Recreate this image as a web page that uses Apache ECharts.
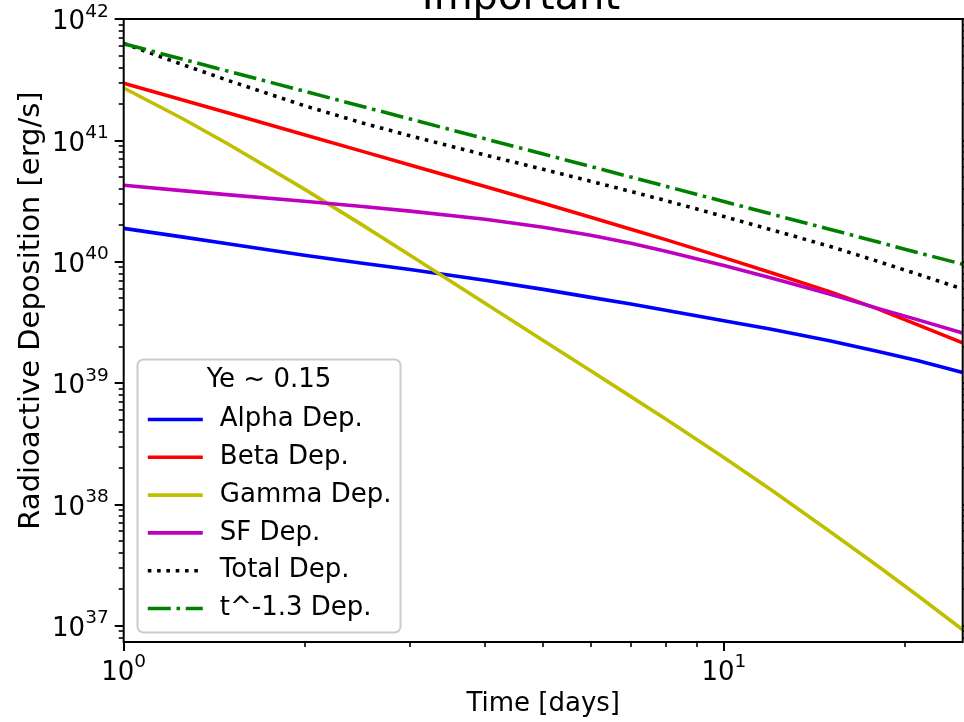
<!DOCTYPE html>
<html><head><meta charset="utf-8">
<script src="https://cdn.jsdelivr.net/npm/echarts@6/dist/echarts.min.js"></script>
<style>html,body{margin:0;padding:0;background:#fff}#c{width:964px;height:722px}</style>
</head><body><div id="c"></div>
<script>
// ---- data ----
const times = [1, 1.25, 1.5, 2, 2.5, 3, 4, 5, 6, 7, 8, 10, 12, 15, 18, 21, 25];
const alphaDep = [1.88e40,1.60e40,1.40e40,1.13e40,9.72e39,8.61e39,7.04e39,5.91e39,5.08e39,4.47e39,3.98e39,3.26e39,2.77e39,2.23e39,1.83e39,1.53e39,1.22e39];
const betaDep = [2.96e41,2.16e41,1.67e41,1.11e41,8.11e40,6.27e40,4.17e40,3.03e40,2.32e40,1.85e40,1.52e40,1.08e40,8.09e39,5.66e39,4.10e39,3.03e39,2.14e39];
const gammaDep = [2.70e41,1.52e41,9.20e40,3.96e40,2.00e40,1.13e40,4.55e39,2.24e39,1.26e39,7.72e38,5.05e38,2.43e38,1.31e38,6.00e37,3.13e37,1.78e37,9.25e36];
const sfDep = [4.27e40,3.85e40,3.55e40,3.15e40,2.85e40,2.61e40,2.24e40,1.92e40,1.65e40,1.42e40,1.22e40,9.29e39,7.35e39,5.42e39,4.14e39,3.33e39,2.58e39];
const totalDep = [6.28e41,4.23e41,3.09e41,1.93e41,1.39e41,1.09e41,7.57e40,5.77e40,4.60e40,3.79e40,3.19e40,2.36e40,1.83e40,1.34e40,1.01e40,7.91e39,5.95e39];
const powerLawDep = [6.25e41,4.68e41,3.69e41,2.54e41,1.90e41,1.50e41,1.03e41,7.71e40,6.09e40,4.98e40,4.19e40,3.13e40,2.47e40,1.85e40,1.46e40,1.19e40,9.52e39];
const seriesNames = ['Alpha Dep.', 'Beta Dep.', 'Gamma Dep.', 'SF Dep.', 'Total Dep.', 't^-1.3 Dep.'];
const legendTitle = 'Ye ~ 0.15';
const chartTitle = 'Important';
const xAxisTitle = 'Time [days]';
const yAxisTitle = 'Radioactive Deposition [erg/s]';
const xMajorExponents = [0, 1];
const yMajorExponents = [37, 38, 39, 40, 41, 42];
const xRange = [1, 25];
const yRange = [7.32e36, 1.0000001e42];

// ---- derived tick positions ----
const xMajor = xMajorExponents.map(e => Math.pow(10, e));
const yMajor = yMajorExponents.map(e => Math.pow(10, e));
function minorTicks(lo, hi) {
  const out = [];
  for (let e = Math.floor(Math.log10(lo)); e <= Math.ceil(Math.log10(hi)); e++) {
    for (let m = 2; m <= 9; m++) {
      const v = m * Math.pow(10, e);
      if (v >= lo && v <= hi) out.push(v);
    }
  }
  return out;
}
const xMinor = minorTicks(xRange[0], xRange[1]);
const yMinor = minorTicks(yRange[0], yRange[1]);

const F = 'DejaVu Sans';
const rich = {
  b: {fontSize: 26, fontFamily: F, color: '#000', lineHeight: 33, verticalAlign: 'bottom'},
  s: {fontSize: 18.5, fontFamily: F, color: '#000', lineHeight: 17, verticalAlign: 'top'}
};
const powFmt = v => '{b|10}{s|' + Math.round(Math.log10(v)) + '}';

function axisBase() {
  return {type: 'log', logBase: 10, gridIndex: 0, splitLine: {show: false}, axisLine: {show: false}, minorTick: {show: false}};
}
function xAx(pos, vals, len, w, withLabel) {
  return Object.assign(axisBase(), {min: xRange[0], max: xRange[1], position: pos,
    axisTick: {show: true, inside: false, length: len, lineStyle: {color: '#000', width: w}, customValues: vals},
    axisLabel: withLabel ? {show: true, customValues: vals, formatter: powFmt, rich: rich, margin: 11} : {show: false}
  });
}
function yAx(pos, vals, len, w, withLabel) {
  return Object.assign(axisBase(), {min: yRange[0], max: yRange[1], position: pos,
    axisTick: {show: true, inside: false, length: len, lineStyle: {color: '#000', width: w}, customValues: vals},
    axisLabel: withLabel ? {show: true, customValues: vals, formatter: powFmt, rich: rich, margin: 15} : {show: false}
  });
}

const xMain = xAx('bottom', xMajor, 9, 2, true);
xMain.name = xAxisTitle; xMain.nameLocation = 'middle'; xMain.nameGap = 44;
xMain.nameTextStyle = {fontSize: 26, fontFamily: F, color: '#000'};
const yMain = yAx('left', yMajor, 9, 2, true);

const colors = ['#0000ff', '#ff0000', '#bfbf00', '#bf00bf', '#000000', '#008000'];
const dashes = ['solid', 'solid', 'solid', 'solid', [3.6, 5.7], [23, 5.7, 3.6, 5.7]];
const allData = [alphaDep, betaDep, gammaDep, sfDep, totalDep, powerLawDep];

const series = allData.map((arr, i) => ({
  name: seriesNames[i], type: 'line', xAxisIndex: 0, yAxisIndex: 0,
  data: times.map((t, k) => [t, arr[k]]),
  showSymbol: false, symbol: 'none', smooth: false,
  lineStyle: {color: colors[i], width: 3.6, type: dashes[i], cap: 'butt', join: 'round'},
  itemStyle: {color: colors[i]},
  z: 2, animation: false
}));

const chart = echarts.init(document.getElementById('c'), null, {renderer: 'canvas'});
chart.setOption({
  animation: false,
  backgroundColor: '#fff',
  grid: {left: 123.7, right: 1.3, top: 19, bottom: 78, show: true, borderColor: '#000', borderWidth: 2, backgroundColor: 'transparent', containLabel: false, z: 6},
  xAxis: [xMain, xAx('bottom', xMinor, 5, 1.6, false)],
  yAxis: [yMain, yAx('left', yMinor, 5, 1.6, false), yAx('right', yMajor, 9, 2, false), yAx('right', yMinor, 5, 1.6, false)],
  legend: {
    orient: 'vertical', left: 146, top: 406.5, itemWidth: 55, itemHeight: 14, itemGap: 11.8, padding: 0,
    data: seriesNames, selectedMode: false, z: 10,
    textStyle: {fontSize: 26, fontFamily: F, color: '#000', padding: [0, 0, 0, 12]},
    lineStyle: {width: 3.6},
    itemStyle: {opacity: 0}
  },
  graphic: [
    {type: 'text', x: 521, y: 18.5, z: 10, style: {text: chartTitle, font: '40px "DejaVu Sans"', fill: '#000', textAlign: 'center', textVerticalAlign: 'bottom'}},
    {type: 'text', x: 31, y: 310.5, rotation: Math.PI / 2, z: 10, style: {text: yAxisTitle, font: '29px "DejaVu Sans"', fill: '#000', textAlign: 'center', textVerticalAlign: 'middle'}},
    {type: 'rect', z: 9, shape: {x: 137.5, y: 359.5, width: 263, height: 273, r: 6}, style: {fill: 'rgba(255,255,255,0.8)', stroke: '#cccccc', lineWidth: 2}},
    {type: 'text', x: 269, y: 380, z: 10, style: {text: legendTitle, font: '26px "DejaVu Sans"', fill: '#000', textAlign: 'center', textVerticalAlign: 'middle'}}
  ],
  series: series
});
</script></body></html>
